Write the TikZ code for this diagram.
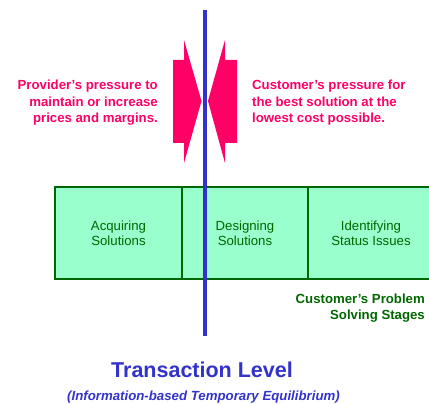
\documentclass[tikz,border=0pt]{standalone}
\usepackage{fontspec}
\setmainfont{Liberation Sans}
\definecolor{pinkc}{RGB}{255,0,102}
\definecolor{bluec}{RGB}{51,51,204}
\definecolor{greenc}{RGB}{0,102,0}
\definecolor{fillc}{RGB}{153,255,204}
\tikzset{
 x=1pt,y=-1pt,
 pressure/.style={fill=pinkc,draw=none},
 stage/.style={draw=greenc,fill=fillc,line width=2pt,outer sep=0pt,minimum height=92pt,anchor=north west,inner sep=0pt,text=greenc,font=\fontsize{13.2}{15.5}\selectfont,align=center},
 pinktext/.style={text=pinkc,inner sep=0pt,font=\fontsize{13.2}{16.5}\bfseries\selectfont},
}
\begin{document}
\begin{tikzpicture}
\useasboundingbox (0,0) rectangle (429,404);
\path[clip] (0,0) rectangle (429,404);
\node[stage,minimum width=127pt] (acq) at (55,187.3) {Acquiring\\Solutions};
\node[stage,minimum width=126pt] (des) at (182,187.3) {Designing\\Solutions};
\node[stage,minimum width=126pt] (ide) at (308,187.3) {Identifying\\Status Issues};
\draw[pressure] (173,60) -- (184,60) -- (184,40) -- (201.5,101) -- (184,163) -- (184,143) -- (173,143) -- cycle;
\draw[pressure] (237,60) -- (225,60) -- (225,40) -- (208,101) -- (225,163) -- (225,143) -- (237,143) -- cycle;
\coordinate (top) at (205,10);
\coordinate (bot) at (205,336);
\draw[bluec,line width=4pt] (top) -- (bot);
\node[pinktext,align=right,anchor=east] (prov) at (158,103) {Provider's pressure to\\maintain or increase\\prices and margins.};
\node[pinktext,align=left,anchor=west] (cust) at (252,103) {Customer's pressure for\\the best solution at the\\lowest cost possible.};
\node[text=greenc,inner sep=0pt,align=right,anchor=east,font=\fontsize{13.2}{16}\bfseries\selectfont] (lab) at (425,308) {Customer's Problem\\Solving Stages};
\node[text=bluec,inner sep=0pt,font=\fontsize{21.5}{24}\bfseries\selectfont] (lev) at (202,370) {Transaction Level};
\node[text=bluec,inner sep=0pt,font=\fontsize{13.25}{14}\bfseries\itshape\selectfont] (sub) at (203.5,397) {(Information-based Temporary Equilibrium)};
\end{tikzpicture}
\end{document}
